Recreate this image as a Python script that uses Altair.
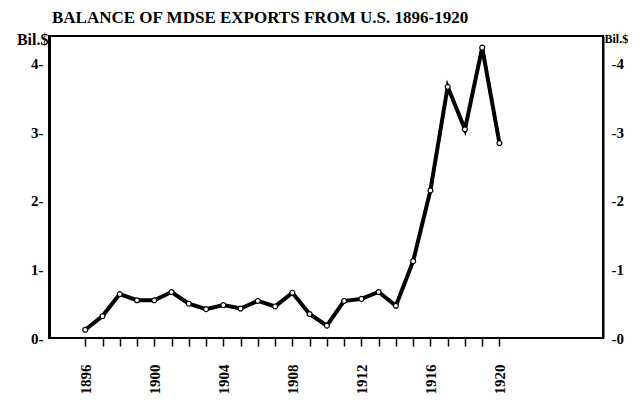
import altair as alt
import pandas as pd

years = list(range(1896, 1921))
balance = [0.12, 0.32, 0.64, 0.55, 0.55, 0.67, 0.50, 0.42, 0.48, 0.43,
           0.54, 0.46, 0.66, 0.35, 0.18, 0.54, 0.57, 0.67, 0.47, 1.12,
           2.15, 3.66, 3.04, 4.23, 2.84]
label_years = [1896, 1900, 1904, 1908, 1912, 1916, 1920]
y_ticks = [0, 1, 2, 3, 4]
title_text = "BALANCE OF MDSE EXPORTS FROM U.S. 1896-1920"
unit_text = "Bil.$"

df = pd.DataFrame({"year": years, "balance": balance})

FONT = "Liberation Serif"

x_enc = alt.X(
    "year:Q",
    scale=alt.Scale(domain=[1893.9, 1926], nice=False, zero=False),
    axis=alt.Axis(
        values=years,
        labelExpr=f"indexof({label_years}, datum.value) >= 0 ? datum.label : ''",
        format="d",
        labelAngle=270,
        labelAlign="right",
        labelBaseline="middle",
        tickSize=8,
        tickWidth=1.5,
        tickColor="black",
        labelPadding=18,
        domain=False,
        grid=False,
        title=None,
        labelFont=FONT,
        labelFontWeight="bold",
        labelFontSize=15,
        labelColor="black",
    ),
)

yscale = alt.Scale(domain=[0, 4.4], nice=False)

line = alt.Chart(df).mark_line(color="black", strokeWidth=4).encode(
    x=x_enc,
    y=alt.Y(
        "balance:Q",
        scale=yscale,
        axis=alt.Axis(
            orient="left",
            values=y_ticks,
            labelExpr="datum.label + '-'",
            ticks=False,
            grid=False,
            domainColor="black",
            domainWidth=3,
            labelPadding=6,
            labelFont=FONT,
            labelFontWeight="bold",
            labelFontSize=15,
            labelColor="black",
            title=unit_text,
            titleAngle=0,
            titleAlign="right",
            titleBaseline="middle",
            titleX=-1,
            titleY=3,
            titleFont=FONT,
            titleFontWeight="bold",
            titleFontSize=16,
            titleColor="black",
        ),
    ),
)

points = alt.Chart(df).mark_point(
    filled=True, fill="white", stroke="black", strokeWidth=1.2, size=24, opacity=1
).encode(
    x=x_enc,
    y=alt.Y(
        "balance:Q",
        scale=yscale,
        axis=alt.Axis(
            orient="right",
            values=y_ticks,
            labelExpr="'-' + datum.label",
            ticks=False,
            grid=False,
            domainColor="black",
            domainWidth=2,
            labelPadding=8,
            labelFont=FONT,
            labelFontWeight="bold",
            labelFontSize=15,
            labelColor="black",
            title=unit_text,
            titleAngle=0,
            titleAlign="left",
            titleBaseline="middle",
            titleX=1,
            titleY=2,
            titleFont=FONT,
            titleFontWeight="bold",
            titleFontSize=12,
            titleColor="black",
        ),
    ),
)

chart = (
    alt.layer(line, points)
    .resolve_scale(y="independent")
    .properties(
        width=554,
        height=302,
        autosize=alt.AutoSizeParams(type="none"),
        padding={"left": 41, "top": 28, "right": 28, "bottom": 55},
        title=alt.Title(
            title_text,
            font=FONT,
            fontSize=17,
            fontWeight="bold",
            color="black",
            anchor="start",
            frame="group",
            offset=4,
            dx=3,
        ),
        background="white",
    )
    .configure_view(stroke="black", strokeWidth=2)
)

chart.save("out.html", embed_options={"renderer": "svg", "actions": False})
